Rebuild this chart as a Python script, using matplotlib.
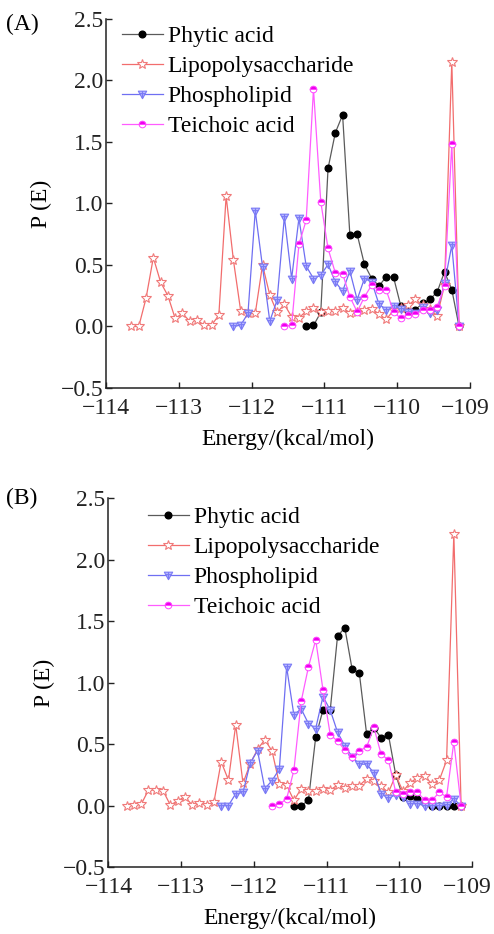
import matplotlib
matplotlib.use("Agg")
import matplotlib.pyplot as plt
from matplotlib.path import Path
import matplotlib.transforms as mtransforms
import numpy as np

plt.rcParams['font.family'] = ['Liberation Serif', 'DejaVu Serif']
plt.rcParams['axes.unicode_minus'] = True

# ---------------- data ----------------
energy_A = [-113.65, -113.55, -113.45, -113.35, -113.25, -113.15, -113.05, -112.95,
            -112.85, -112.75, -112.65, -112.55, -112.45, -112.35, -112.25, -112.15,
            -112.05, -111.95, -111.85, -111.75, -111.65, -111.55, -111.45, -111.35,
            -111.25, -111.15, -111.05, -110.95, -110.85, -110.75, -110.65, -110.55,
            -110.45, -110.35, -110.25, -110.15, -110.05, -109.95, -109.85, -109.75,
            -109.65, -109.55, -109.45, -109.35, -109.25, -109.15]
energy_B = [-113.75] + energy_A

# Panel A
lps_A = [0.0, 0.0, 0.23, 0.56, 0.36, 0.25, 0.065, 0.106, 0.043, 0.051, 0.011, 0.011,
         0.092, 1.06, 0.54, 0.127, 0.106, 0.106, 0.50, 0.255, 0.114, 0.179, 0.079, 0.070,
         0.125, 0.152, 0.114, 0.125, 0.125, 0.152, 0.111, 0.119, 0.133, 0.146, 0.100,
         0.057, 0.133, 0.154, 0.173, 0.22, 0.173, 0.141, 0.087, 0.336, 2.15, 0.0]
phospho_A = [0.0, 0.011, 0.106, 0.94, 0.485, 0.043, 0.214, 0.89, 0.39, 0.88, 0.49, 0.39,
             0.417, 0.504, 0.363, 0.287, 0.45, 0.219, 0.39, 0.363, 0.18, 0.138, 0.165,
             0.146, 0.119, 0.106, 0.16, 0.106, 0.133, 0.35, 0.66, 0.0]
phytic_A = [0.0, 0.008, 0.114, 1.285, 1.575, 1.72, 0.742, 0.75, 0.504, 0.39, 0.33, 0.404,
            0.40, 0.165, 0.125, 0.138, 0.187, 0.22, 0.282, 0.444, 0.30, 0.0]
teich_A = [0.0, 0.011, 0.667, 0.864, 1.93, 1.014, 0.634, 0.436, 0.43, 0.241, 0.119, 0.241,
           0.336, 0.295, 0.295, 0.119, 0.065, 0.092, 0.10, 0.133, 0.133, 0.16, 0.33, 1.48, 0.0]

# Panel B
lps_B = [0.0, 0.008, 0.014, 0.13, 0.13, 0.125, 0.008, 0.04, 0.077, 0.008, 0.023, 0.008,
         0.03, 0.36, 0.21, 0.66, 0.185, 0.345, 0.46, 0.54, 0.446, 0.18, 0.17, 0.045, 0.14,
         0.125, 0.12, 0.135, 0.13, 0.17, 0.15, 0.166, 0.166, 0.22, 0.20, 0.16, 0.11, 0.25,
         0.12, 0.19, 0.23, 0.24, 0.18, 0.21, 0.37, 2.21, 0.0]
phospho_B = [0.004, 0.004, 0.10, 0.11, 0.35, 0.45, 0.14, 0.207, 0.30, 1.13, 0.74, 0.79,
             0.67, 0.63, 0.89, 0.78, 0.60, 0.49, 0.40, 0.34, 0.34, 0.27, 0.10, 0.065, 0.09,
             0.07, 0.02, 0.02, 0.0, 0.004, 0.004, 0.008, 0.058, 0.0]
phytic_B = [0.0, 0.004, 0.045, 0.56, 0.78, 0.78, 1.38, 1.45, 1.115, 1.08, 0.587, 0.636,
            0.555, 0.58, 0.256, 0.072, 0.08, 0.053, 0.023, 0.004, 0.004, 0.004, 0.004, 0.0]
teich_B = [0.0, 0.015, 0.058, 0.29, 0.85, 1.13, 1.35, 0.945, 0.58, 0.527, 0.457, 0.40,
           0.45, 0.478, 0.64, 0.42, 0.375, 0.115, 0.10, 0.11, 0.11, 0.048, 0.048, 0.11,
           0.075, 0.52, 0.0]

panels = [
    ("(A)", energy_A, lps_A, phospho_A, phytic_A, teich_A),
    ("(B)", energy_B, lps_B, phospho_B, phytic_B, teich_B),
]
labels = ["Phytic acid", "Lipopolysaccharide", "Phospholipid", "Teichoic acid"]
xticks = [-114, -113, -112, -111, -110, -109]
yticks = [-0.5, 0.0, 0.5, 1.0, 1.5, 2.0, 2.5]

# custom marker: down triangle with a cross
tri_cross = Path([(-1, 0.8), (1, 0.8), (0, -1), (-1, 0.8), (0, 0.8), (0, -1), (-0.55, 0.2), (0.55, 0.2)],
                 [Path.MOVETO, Path.LINETO, Path.LINETO, Path.CLOSEPOLY,
                  Path.MOVETO, Path.LINETO, Path.MOVETO, Path.LINETO])

fig = plt.figure(figsize=(4.94, 9.34), dpi=100)
axes_rects = [[0.2146, 0.5846, 0.7368, 0.3951],
              [0.2196, 0.0712, 0.7359, 0.3951]]
legend_pos = [(0.017, 1.008), (0.082, 1.004)]
panel_lbl_y = [0.985, 0.478]

FS = 17
for i, (tag, en, lps, pho, phy, tei) in enumerate(panels):
    ax = fig.add_axes(axes_rects[i])
    n = len(en)
    x_lps = en
    x_pho = en[n - len(pho):]
    x_phy = en[n - len(phy):]
    x_tei = en[n - len(tei):]

    ax.plot(x_phy, phy, color='#5a5a5a', lw=0.9, marker='o', ms=4.8,
            mfc='black', mec='black', label=labels[0], zorder=3)
    ax.plot(x_lps, lps, color='#f26d6d', lw=0.9, marker='*', ms=7,
            mfc='white', mec='#f07a7a', mew=0.8, label=labels[1], zorder=4)
    ax.plot(x_pho, pho, color='#6f6ff2', lw=0.9, marker=tri_cross, ms=6,
            mfc='#b7b7ff', mec='#7b7bf5', mew=0.8, label=labels[2], zorder=5)
    ax.plot(x_tei, tei, color='#ff5cff', lw=0.9, marker='o', ms=4.8,
            fillstyle='top', mfc='#ee00ee', mfcalt='white', mec='#ff44ff', mew=0.7,
            label=labels[3], zorder=6)

    ax.set_xlim(-114, -109)
    ax.set_ylim(-0.5, 2.5)
    ax.set_xticks(xticks)
    ax.set_yticks(yticks)
    ax.set_yticklabels([f"{v:.1f}".replace('-', '\u2212') for v in yticks])
    ax.set_xticklabels([f"{v:d}".replace('-', '\u2212') for v in xticks])
    for s in ['top', 'right']:
        ax.spines[s].set_visible(False)
    for s in ['left', 'bottom']:
        ax.spines[s].set_linewidth(1.1)
        ax.spines[s].set_color('#222222')
    ax.tick_params(direction='in', length=4, width=1, labelsize=FS, pad=2, colors='#222222')
    ax.tick_params(axis='x', pad=7)
    # keep the last x label inside the figure
    lastlbl = ax.get_xticklabels()[-1]
    lastlbl.set_transform(lastlbl.get_transform() +
                          mtransforms.ScaledTranslation(-5 / 100, 0, fig.dpi_scale_trans))
    ax.set_xlabel("Energy/(kcal/mol)", fontsize=FS, labelpad=7)
    ax.set_ylabel("P (E)", fontsize=FS, labelpad=6)

    leg = ax.legend(loc='upper left', bbox_to_anchor=legend_pos[i], frameon=False,
                    fontsize=FS, handlelength=1.75, handletextpad=0.2,
                    labelspacing=0.36, borderaxespad=0.0, numpoints=1)
    fig.text(0.012, panel_lbl_y[i], tag, fontsize=FS, va='top', ha='left')

fig.savefig("out.png", dpi=100)
